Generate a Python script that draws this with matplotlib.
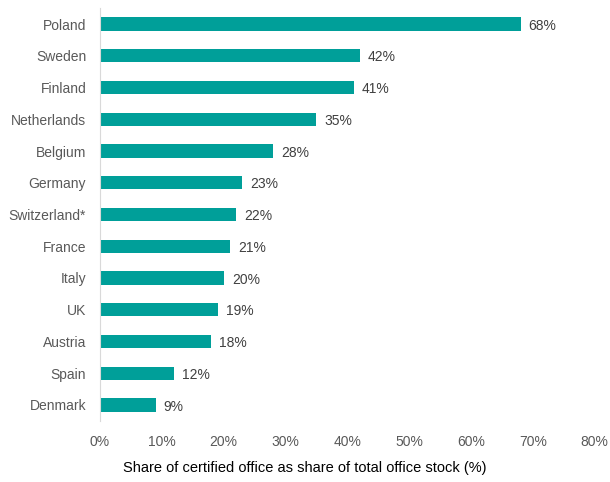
import matplotlib.pyplot as plt

plt.rcParams['font.family'] = ['Liberation Sans', 'DejaVu Sans']

# data
countries = ['Poland', 'Sweden', 'Finland', 'Netherlands', 'Belgium', 'Germany',
             'Switzerland*', 'France', 'Italy', 'UK', 'Austria', 'Spain', 'Denmark']
shares = [68, 42, 41, 35, 28, 23, 22, 21, 20, 19, 18, 12, 9]
xticks = [0, 10, 20, 30, 40, 50, 60, 70, 80]

fig = plt.figure(figsize=(6.1, 4.82), dpi=100)
ax = fig.add_axes([0.164, 0.127, 0.811, 0.856])

pos = list(range(len(countries)))
ax.barh(pos, shares, height=0.42, color='#009f99')
for p, v in zip(pos, shares):
    ax.text(v + 1.3, p + 0.05, f'{v}%', va='center', ha='left', fontsize=10, color='#404040')

ax.set_ylim(len(countries) - 0.5, -0.5)
ax.set_xlim(0, 80)
ax.set_yticks(pos)
ax.set_yticklabels(countries, fontsize=10, color='#595959')
ax.set_xticks(xticks)
ax.set_xticklabels([f'{t}%' for t in xticks], fontsize=10, color='#595959')
ax.tick_params(axis='both', length=0)
ax.tick_params(axis='x', pad=10)
ax.tick_params(axis='y', pad=10)

for s in ['top', 'right', 'bottom']:
    ax.spines[s].set_visible(False)
ax.spines['left'].set_color('#d9d9d9')

# axis title centred on the figure, as in the original
fig.text(0.5, 1 - 468 / 482, 'Share of certified office as share of total office stock (%)',
         fontsize=10.5, color='#000000', ha='center', va='center')

fig.savefig('out.png', dpi=100)
